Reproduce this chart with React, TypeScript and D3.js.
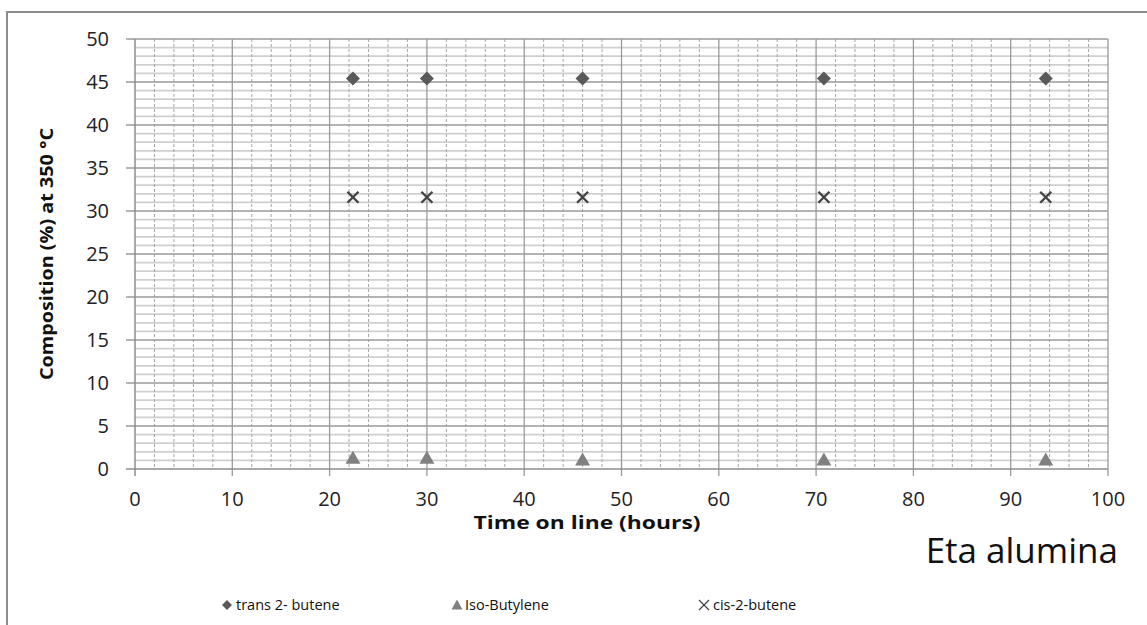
import React from "react";
import * as d3 from "d3";

// Sampling times (hours on line)
const times = [22.4, 30, 46, 70.8, 93.6];
// Composition (%) at 350 °C for each species
const transButene = [45.4, 45.4, 45.4, 45.4, 45.4];
const isoButylene = [1.3, 1.3, 1.1, 1.1, 1.1];
const cisButene = [31.6, 31.6, 31.6, 31.6, 31.6];

const xTicks = [0, 10, 20, 30, 40, 50, 60, 70, 80, 90, 100];
const yTicks = [0, 5, 10, 15, 20, 25, 30, 35, 40, 45, 50];

const W = 1147;
const H = 625;
const plot = { left: 135, right: 1108, top: 39, bottom: 469 };

const font = "'Open Sans', 'DejaVu Sans', sans-serif";

const diamondPath = (r: number) => {
  const p = d3.path();
  p.moveTo(0, -r);
  p.lineTo(r, 0);
  p.lineTo(0, r);
  p.lineTo(-r, 0);
  p.closePath();
  return p.toString();
};

const trianglePath = (hw: number, h: number) => {
  const p = d3.path();
  p.moveTo(0, -h * 0.55);
  p.lineTo(hw, h * 0.45);
  p.lineTo(-hw, h * 0.45);
  p.closePath();
  return p.toString();
};

const Cross = ({ cx, cy, r, w }: { cx: number; cy: number; r: number; w: number }) => (
  <g stroke="#444" strokeWidth={w}>
    <line x1={cx - r} y1={cy - r} x2={cx + r} y2={cy + r} />
    <line x1={cx - r} y1={cy + r} x2={cx + r} y2={cy - r} />
  </g>
);

export default function App() {
  const x = d3.scaleLinear().domain([0, 100]).range([plot.left, plot.right]);
  const y = d3.scaleLinear().domain([0, 50]).range([plot.bottom, plot.top]);

  const minorY = d3.range(1, 50).filter((v) => v % 5 !== 0);
  const minorX = d3.range(2, 100, 2).filter((v) => v % 10 !== 0);

  const diamond = diamondPath(7);
  const triangle = trianglePath(7.5, 13);

  return (
    <svg
      width={W}
      height={H}
      style={{ position: "fixed", left: 0, top: 0, background: "#fff" }}
    >
      {/* outer frame */}
      <polyline
        points={`7,${H} 7,12 ${W},12`}
        fill="none"
        stroke="#8c8c8c"
        strokeWidth={2}
      />

      {/* minor horizontal grid */}
      {minorY.map((v) => (
        <line
          key={"my" + v}
          x1={plot.left}
          x2={plot.right}
          y1={y(v)}
          y2={y(v)}
          stroke="#cfcfcf"
          strokeWidth={1.8}
        />
      ))}
      {/* minor vertical dashed grid */}
      {minorX.map((v) => (
        <line
          key={"mx" + v}
          x1={x(v)}
          x2={x(v)}
          y1={plot.top}
          y2={plot.bottom}
          stroke="#a6a6a6"
          strokeWidth={1}
          strokeDasharray="3,2"
        />
      ))}
      {/* major horizontal grid */}
      {yTicks.slice(1).map((v) => (
        <line
          key={"Y" + v}
          x1={plot.left - 9}
          x2={plot.right}
          y1={y(v)}
          y2={y(v)}
          stroke="#9a9a9a"
          strokeWidth={1.3}
        />
      ))}
      {/* major vertical grid */}
      {xTicks.slice(1).map((v) => (
        <line
          key={"X" + v}
          x1={x(v)}
          x2={x(v)}
          y1={plot.top}
          y2={plot.bottom + 7}
          stroke="#9a9a9a"
          strokeWidth={1.3}
        />
      ))}
      {/* axes */}
      <line x1={plot.left} x2={plot.left} y1={plot.top} y2={plot.bottom + 7} stroke="#8c8c8c" strokeWidth={1.5} />
      <line x1={plot.left - 9} x2={plot.right} y1={plot.bottom} y2={plot.bottom} stroke="#8c8c8c" strokeWidth={1.5} />

      {/* tick labels */}
      {yTicks.map((v) => (
        <text
          key={"yl" + v}
          x={109}
          y={y(v)}
          dy="0.36em"
          textAnchor="end"
          fontFamily={font}
          fontSize={20}
          fill="#222"
        >
          {v}
        </text>
      ))}
      {xTicks.map((v) => (
        <text
          key={"xl" + v}
          x={x(v)}
          y={506}
          textAnchor="middle"
          fontFamily={font}
          fontSize={20}
          fill="#222"
        >
          {v}
        </text>
      ))}

      {/* axis titles */}
      <text
        transform={`translate(53,${254}) rotate(-90)`}
        textAnchor="middle"
        fontFamily={font}
        fontSize={18}
        fontWeight="bold"
        fill="#111"
        textLength={252}
        lengthAdjust="spacingAndGlyphs"
      >
        Composition (%) at 350 °C
      </text>
      <text
        x={587}
        y={529}
        textAnchor="middle"
        fontFamily={font}
        fontSize={17}
        fontWeight="bold"
        fill="#111"
        textLength={227}
        lengthAdjust="spacingAndGlyphs"
      >
        Time on line (hours)
      </text>
      <text x={1118} y={563} textAnchor="end" fontFamily={font} fontSize={35} fill="#111">
        Eta alumina
      </text>

      {/* series */}
      {times.map((t, i) => (
        <path key={"d" + i} d={diamond} transform={`translate(${x(t)},${y(transButene[i])})`} fill="#595959" />
      ))}
      {times.map((t, i) => (
        <path key={"t" + i} d={triangle} transform={`translate(${x(t)},${y(isoButylene[i])})`} fill="#808080" />
      ))}
      {times.map((t, i) => (
        <Cross key={"c" + i} cx={x(t)} cy={y(cisButene[i])} r={5.5} w={2.4} />
      ))}

      {/* legend */}
      <g fontFamily={font} fontSize={14.5} fill="#111">
        <path d={diamondPath(5)} transform="translate(227,605)" fill="#595959" />
        <text x={236} y={610}>trans 2- butene</text>
        <path d={trianglePath(5.5, 10)} transform="translate(457,605)" fill="#808080" />
        <text x={465} y={610}>Iso-Butylene</text>
        <Cross cx={704} cy={605} r={5} w={1.2} />
        <text x={713} y={610}>cis-2-butene</text>
      </g>
    </svg>
  );
}
